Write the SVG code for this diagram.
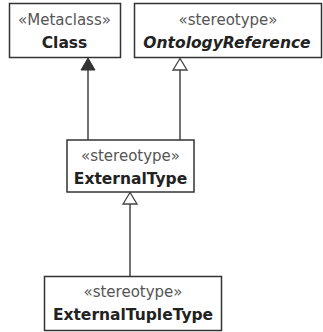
<svg xmlns="http://www.w3.org/2000/svg" width="323" height="332" viewBox="0 0 323 332">
<style>
.box{fill:#fff;stroke:#333;stroke-width:1.5}
.st{font-family:"DejaVu Sans",sans-serif;font-size:15px;fill:#555;text-anchor:middle}
.nm{font-family:"DejaVu Sans",sans-serif;font-size:15.5px;font-weight:bold;fill:#222;text-anchor:middle}
.it{font-style:italic}
.ln{stroke:#444;stroke-width:1.5;fill:none}
.filled{fill:#333;stroke:#333;stroke-width:1}
.hollow{fill:#fff;stroke:#444;stroke-width:1.3}
</style>
<rect width="323" height="332" fill="#fff"/>
<g id="connectors">
<line class="ln" x1="88" y1="140" x2="88" y2="69"/>
<polygon class="filled" points="88,58 81,70 95,70"/>
<line class="ln" x1="180" y1="140" x2="180" y2="70"/>
<polygon class="hollow" points="180,58.5 173,70 187,70"/>
<line class="ln" x1="130" y1="276" x2="130" y2="204"/>
<polygon class="hollow" points="130,192.5 123,204 137,204"/>
</g>
<g id="Class">
<rect class="box" x="9.5" y="3.5" width="111" height="54"/>
<text class="st" x="64.5" y="25">«Metaclass»</text>
<text class="nm" x="64.5" y="48">Class</text>
</g>
<g id="OntologyReference">
<rect class="box" x="134.5" y="3.5" width="187" height="54"/>
<text class="st" x="228" y="25">«stereotype»</text>
<text class="nm it" x="227" y="48">OntologyReference</text>
</g>
<g id="ExternalType">
<rect class="box" x="67" y="140" width="127" height="52"/>
<text class="st" x="130.5" y="161">«stereotype»</text>
<text class="nm" x="130.5" y="184">ExternalType</text>
</g>
<g id="ExternalTupleType">
<rect class="box" x="44.5" y="276.5" width="177" height="54"/>
<text class="st" x="133" y="297">«stereotype»</text>
<text class="nm" x="133" y="320">ExternalTupleType</text>
</g>
</svg>
